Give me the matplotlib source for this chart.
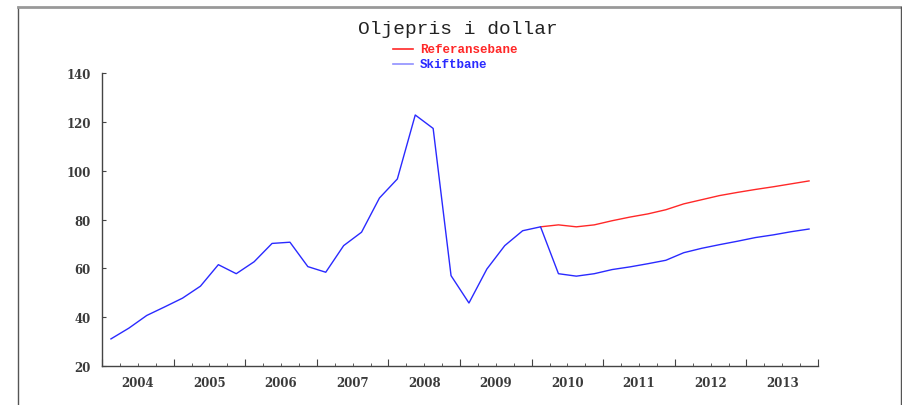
import numpy as np
import matplotlib
matplotlib.use("Agg")
import matplotlib.pyplot as plt
from matplotlib.lines import Line2D
from matplotlib.ticker import MultipleLocator

# quarterly oil price, 2004Q1 - 2013Q4
history = [31.1, 35.5, 40.7, 44.2, 47.8, 52.7, 61.5, 57.8,
           62.7, 70.2, 70.7, 60.7, 58.4, 69.3, 74.8, 88.8,
           96.6, 122.8, 117.3, 57.0, 45.8, 59.7, 69.3, 75.4,
           77.0]
referanse_frem = [77.8, 77.0, 77.8, 79.5, 81.0, 82.3, 84.0, 86.4,
                  88.1, 89.8, 91.1, 92.3, 93.4, 94.6, 95.8]
skift_frem = [57.8, 56.8, 57.8, 59.5, 60.6, 61.9, 63.3, 66.4,
              68.2, 69.7, 71.1, 72.6, 73.7, 75.0, 76.1]

referansebane = history + referanse_frem
skiftbane = history + skift_frem
years = list(range(2004, 2014))

t = 2004 + (np.arange(len(referansebane)) + 0.5) / 4
split = len(history) - 1  # red only shows where the paths part

fig = plt.figure(figsize=(9.03, 4.06), dpi=100)
ax = fig.add_axes([102 / 903, 39 / 406, 716 / 903, 293 / 406])

ax.plot(t[split:], referansebane[split:], color="#ff2828", lw=1.0)
ax.plot(t, skiftbane, color="#2a2aff", lw=1.0)

ax.set_xlim(2004, 2014)
ax.set_ylim(20, 140)
ax.yaxis.set_major_locator(MultipleLocator(20))
ax.xaxis.set_major_locator(MultipleLocator(1))
ax.xaxis.set_minor_locator(MultipleLocator(0.25))
ax.set_xticklabels([])
for y in years:
    ax.text(y + 0.5, -0.035, str(y), transform=ax.get_xaxis_transform(),
            ha="center", va="top", fontsize=8.5, family="DejaVu Serif",
            weight="bold", color="#3a3a3a")

for s in ["top", "right"]:
    ax.spines[s].set_visible(False)
for s in ["left", "bottom"]:
    ax.spines[s].set_color("#444444")
    ax.spines[s].set_linewidth(1.0)

ax.tick_params(axis="x", which="major", direction="in", length=5, color="#444444")
ax.tick_params(axis="x", which="minor", direction="in", length=2.5, color="#444444")
ax.tick_params(axis="y", direction="in", length=3, color="#444444", pad=8,
               labelsize=8.5, labelcolor="#3a3a3a")
for lab in ax.get_yticklabels():
    lab.set_family("DejaVu Serif")
    lab.set_weight("bold")

fig.text(458 / 903, 1 - 29 / 406, "Oljepris i dollar", ha="center", va="center",
         family="Liberation Mono", fontsize=14, color="#222222")

# legend drawn as in the original: short line and coloured text
leg = [("Referansebane", "#ff2828", "#ff2828", 50),
       ("Skiftbane", "#9090ff", "#2a2aff", 65)]
for name, lc, tc, ypix in leg:
    fig.add_artist(Line2D([393 / 903, 413 / 903], [1 - ypix / 406] * 2,
                          color=lc, lw=1.2))
    fig.text(420 / 903, 1 - ypix / 406, name, ha="left", va="center",
             family="Liberation Mono", fontsize=9, weight="bold", color=tc)

# frame round the chart
fig.add_artist(Line2D([18 / 903, 18 / 903], [0, 1 - 8 / 406], color="#555555", lw=1.0))
fig.add_artist(Line2D([18 / 903, 901 / 903], [1 - 8 / 406] * 2, color="#999999", lw=2.0))
fig.add_artist(Line2D([901 / 903, 901 / 903], [0, 1 - 8 / 406], color="#555555", lw=1.0))

fig.savefig("out.png", dpi=100)
